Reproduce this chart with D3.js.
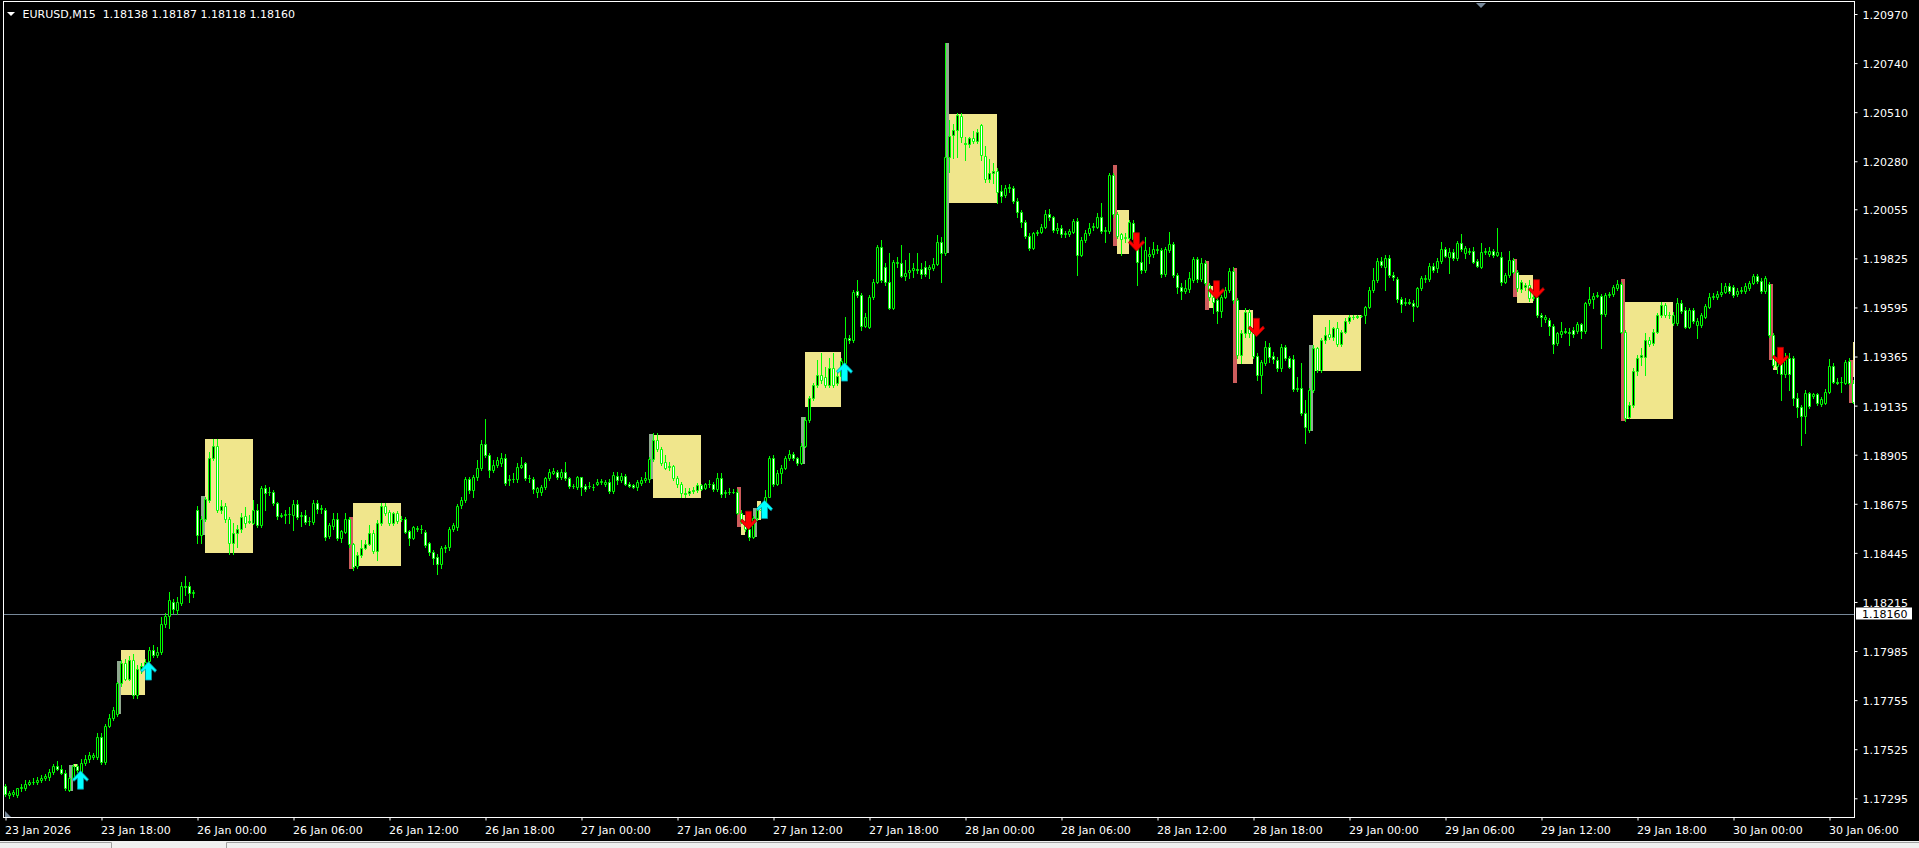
<!DOCTYPE html>
<html>
<head>
<meta charset="utf-8">
<script src="https://cdn.jsdelivr.net/npm/d3@7"></script>
<style>
  html, body { margin: 0; padding: 0; background: #000; overflow: hidden; }
  svg { display: block; font-family: "DejaVu Sans", Verdana, sans-serif; }
</style>
</head>
<body>
<svg id="chart" width="1919" height="848"></svg>
<script>
//======= start data =======//
let opens = [
1.17353,1.17311,1.17317,1.17309,1.17341,1.17344,1.17364,1.17370,1.17373,1.17380,1.17388,1.17395,
1.17419,1.17447,1.17434,1.17414,1.17336,1.17388,1.17447,1.17419,1.17461,1.17477,1.17489,1.17489,
1.17583,1.17466,1.17636,1.17673,1.17692,1.17833,1.17927,1.17856,1.17942,1.17778,1.17903,1.17914,
1.17939,1.17992,1.17966,1.17981,1.18114,1.18149,1.18216,1.18177,1.18208,1.18289,1.18292,1.18258,
1.18648,1.18528,1.18605,1.18695,1.18888,1.18945,1.18648,1.18664,1.18602,1.18492,1.18536,1.18555,
1.18617,1.18589,1.18586,1.18645,1.18575,1.18747,1.18730,1.18731,1.18677,1.18620,1.18623,1.18625,
1.18622,1.18673,1.18617,1.18622,1.18594,1.18591,1.18677,1.18652,1.18648,1.18524,1.18570,1.18606,
1.18517,1.18542,1.18606,1.18486,1.18383,1.18434,1.18470,1.18486,1.18536,1.18455,1.18583,1.18664,
1.18638,1.18586,1.18630,1.18605,1.18606,1.18547,1.18517,1.18558,1.18555,1.18544,1.18489,1.18450,
1.18427,1.18395,1.18466,1.18474,1.18559,1.18567,1.18669,1.18695,1.18789,1.18739,1.18799,1.18845,
1.18955,1.18903,1.18833,1.18856,1.18864,1.18888,1.18786,1.18789,1.18789,1.18849,1.18864,1.18794,
1.18789,1.18731,1.18731,1.18752,1.18794,1.18820,1.18825,1.18799,1.18825,1.18794,1.18758,1.18752,
1.18799,1.18758,1.18758,1.18752,1.18770,1.18778,1.18767,1.18778,1.18736,1.18805,1.18786,1.18805,
1.18770,1.18763,1.18755,1.18773,1.18786,1.18789,1.18884,1.18972,1.18934,1.18869,1.18849,1.18850,
1.18797,1.18770,1.18719,1.18727,1.18734,1.18739,1.18761,1.18750,1.18766,1.18770,1.18742,1.18797,
1.18724,1.18728,1.18731,1.18730,1.18631,1.18592,1.18559,1.18520,1.18608,1.18645,1.18647,1.18709,
1.18888,1.18770,1.18817,1.18844,1.18888,1.18908,1.18888,1.18866,1.18947,1.19066,1.19169,1.19233,
1.19280,1.19270,1.19233,1.19313,1.19241,1.19272,1.19336,1.19452,1.19442,1.19674,1.19652,1.19509,
1.19505,1.19644,1.19716,1.19878,1.19786,1.19716,1.19594,1.19803,1.19803,1.19742,1.19763,1.19770,
1.19777,1.19774,1.19786,1.19774,1.19778,1.19800,1.19902,1.19850,1.20298,1.20403,1.20427,1.20492,
1.20361,1.20361,1.20388,1.20377,1.20450,1.20305,1.20195,1.20223,1.20234,1.20139,1.20122,1.20153,
1.20155,1.20095,1.20041,1.19995,1.19930,1.19873,1.19942,1.19949,1.19974,1.20033,1.20017,1.19958,
1.19969,1.19939,1.19938,1.19949,1.20000,1.19842,1.19911,1.19942,1.19974,1.19974,1.20017,1.19953,
1.19953,1.20214,1.20033,1.19938,1.19924,1.19922,1.19992,1.19914,1.19806,1.19770,1.19838,1.19847,
1.19863,1.19863,1.19752,1.19866,1.19894,1.19747,1.19692,1.19674,1.19680,1.19724,1.19822,1.19727,
1.19803,1.19700,1.19644,1.19628,1.19578,1.19644,1.19677,1.19767,1.19628,1.19372,1.19474,1.19575,
1.19474,1.19367,1.19278,1.19333,1.19411,1.19367,1.19349,1.19309,1.19411,1.19356,1.19352,1.19211,
1.19216,1.19099,1.19020,1.19208,1.19403,1.19302,1.19442,1.19470,1.19455,1.19497,1.19424,1.19481,
1.19533,1.19548,1.19552,1.19555,1.19559,1.19595,1.19677,1.19724,1.19814,1.19786,1.19825,1.19749,
1.19727,1.19633,1.19617,1.19622,1.19614,1.19602,1.19684,1.19727,1.19727,1.19789,1.19778,1.19814,
1.19867,1.19833,1.19856,1.19825,1.19898,1.19852,1.19855,1.19861,1.19814,1.19786,1.19855,1.19845,
1.19861,1.19841,1.19830,1.19716,1.19747,1.19817,1.19763,1.19680,1.19692,1.19700,1.19638,1.19645,
1.19559,1.19539,1.19536,1.19508,1.19427,1.19470,1.19486,1.19481,1.19489,1.19486,1.19517,1.19486,
1.19614,1.19633,1.19649,1.19649,1.19564,1.19652,1.19658,1.19684,1.19705,1.19481,1.19083,1.19138,
1.19298,1.19364,1.19364,1.19442,1.19427,1.19481,1.19559,1.19606,1.19561,1.19520,1.19520,1.19617,
1.19583,1.19505,1.19583,1.19513,1.19513,1.19552,1.19599,1.19642,1.19642,1.19658,1.19669,1.19695,
1.19689,1.19658,1.19670,1.19674,1.19684,1.19711,1.19742,1.19720,1.19674,1.19705,1.19466,1.19320,
1.19349,1.19283,1.19356,1.19356,1.19169,1.19127,1.19086,1.19192,1.19180,1.19189,1.19142,1.19149,
1.19200,1.19320,1.19247,1.19245,1.19242,1.19345,1.19242
];

let highs = [
1.17364,1.17330,1.17336,1.17345,1.17361,1.17380,1.17383,1.17388,1.17395,1.17403,1.17411,1.17434,
1.17458,1.17470,1.17450,1.17427,1.17395,1.17458,1.17458,1.17477,1.17497,1.17513,1.17505,1.17602,
1.17599,1.17645,1.17692,1.17724,1.17841,1.17945,1.17950,1.17961,1.17973,1.17919,1.17927,1.17950,
1.18005,1.18013,1.18005,1.18145,1.18161,1.18263,1.18231,1.18236,1.18309,1.18336,1.18309,1.18273,
1.18664,1.18617,1.18708,1.18919,1.18977,1.18977,1.18692,1.18677,1.18614,1.18583,1.18575,1.18630,
1.18658,1.18622,1.18692,1.18673,1.18758,1.18763,1.18752,1.18739,1.18684,1.18630,1.18645,1.18661,
1.18692,1.18692,1.18638,1.18648,1.18614,1.18695,1.18692,1.18669,1.18653,1.18583,1.18630,1.18630,
1.18552,1.18630,1.18611,1.18492,1.18450,1.18505,1.18505,1.18575,1.18552,1.18598,1.18680,1.18680,
1.18645,1.18638,1.18642,1.18617,1.18614,1.18552,1.18570,1.18573,1.18575,1.18552,1.18497,1.18458,
1.18442,1.18477,1.18481,1.18567,1.18583,1.18673,1.18708,1.18799,1.18799,1.18809,1.18880,1.18973,
1.19070,1.18911,1.18880,1.18895,1.18911,1.18908,1.18809,1.18817,1.18864,1.18895,1.18872,1.18809,
1.18802,1.18755,1.18763,1.18802,1.18836,1.18841,1.18833,1.18836,1.18872,1.18802,1.18770,1.18805,
1.18802,1.18770,1.18778,1.18770,1.18789,1.18789,1.18786,1.18789,1.18825,1.18825,1.18817,1.18814,
1.18778,1.18770,1.18786,1.18799,1.18825,1.18895,1.19005,1.19005,1.18942,1.18903,1.18872,1.18856,
1.18805,1.18778,1.18747,1.18747,1.18752,1.18773,1.18770,1.18773,1.18786,1.18778,1.18817,1.18817,
1.18739,1.18747,1.18742,1.18742,1.18645,1.18606,1.18567,1.18617,1.18661,1.18661,1.18739,1.18898,
1.18903,1.18833,1.18856,1.18898,1.18927,1.18919,1.18895,1.18958,1.19083,1.19180,1.19242,1.19349,
1.19380,1.19317,1.19356,1.19380,1.19302,1.19356,1.19552,1.19466,1.19677,1.19724,1.19661,1.19567,
1.19653,1.19727,1.19888,1.19911,1.19802,1.19848,1.19817,1.19833,1.19888,1.19817,1.19848,1.19802,
1.19848,1.19802,1.19814,1.19794,1.19825,1.19934,1.19923,1.20836,1.20473,1.20455,1.20505,1.20505,
1.20395,1.20392,1.20423,1.20430,1.20455,1.20352,1.20289,1.20270,1.20247,1.20169,1.20169,1.20173,
1.20164,1.20106,1.20052,1.20005,1.19942,1.19950,1.19958,1.19986,1.20052,1.20055,1.20024,1.19989,
1.19981,1.19955,1.19961,1.20011,1.20013,1.19923,1.19958,1.19989,1.19992,1.20036,1.20083,1.19974,
1.20224,1.20224,1.20044,1.19945,1.19942,1.20005,1.20005,1.19923,1.19888,1.19927,1.19880,1.19903,
1.19888,1.19872,1.19880,1.19950,1.19903,1.19758,1.19708,1.19724,1.19763,1.19833,1.19833,1.19825,
1.19817,1.19711,1.19661,1.19638,1.19653,1.19689,1.19778,1.19786,1.19638,1.19489,1.19591,1.19586,
1.19489,1.19380,1.19349,1.19439,1.19427,1.19388,1.19364,1.19424,1.19419,1.19367,1.19372,1.19270,
1.19333,1.19161,1.19216,1.19419,1.19411,1.19450,1.19505,1.19536,1.19505,1.19528,1.19489,1.19544,
1.19559,1.19558,1.19559,1.19561,1.19602,1.19689,1.19778,1.19825,1.19833,1.19841,1.19841,1.19763,
1.19739,1.19645,1.19638,1.19633,1.19630,1.19692,1.19742,1.19747,1.19805,1.19802,1.19825,1.19903,
1.19880,1.19872,1.19867,1.19908,1.19939,1.19883,1.19872,1.19880,1.19820,1.19895,1.19872,1.19880,
1.19867,1.19969,1.19856,1.19758,1.19861,1.19825,1.19770,1.19724,1.19708,1.19724,1.19661,1.19653,
1.19567,1.19559,1.19544,1.19517,1.19481,1.19528,1.19497,1.19497,1.19502,1.19528,1.19523,1.19622,
1.19692,1.19661,1.19669,1.19658,1.19664,1.19669,1.19700,1.19724,1.19716,1.19489,1.19153,1.19309,
1.19372,1.19403,1.19474,1.19458,1.19492,1.19567,1.19622,1.19614,1.19575,1.19575,1.19638,1.19630,
1.19598,1.19591,1.19591,1.19544,1.19567,1.19611,1.19661,1.19664,1.19674,1.19711,1.19711,1.19708,
1.19700,1.19684,1.19689,1.19708,1.19720,1.19752,1.19752,1.19731,1.19742,1.19716,1.19474,1.19364,
1.19372,1.19380,1.19383,1.19367,1.19192,1.19138,1.19208,1.19200,1.19195,1.19195,1.19174,1.19211,
1.19352,1.19333,1.19263,1.19270,1.19349,1.19356,1.19255
];

let lows = [
1.17308,1.17298,1.17305,1.17302,1.17330,1.17336,1.17355,1.17361,1.17364,1.17370,1.17380,1.17383,
1.17411,1.17427,1.17408,1.17333,1.17330,1.17380,1.17419,1.17411,1.17450,1.17466,1.17477,1.17481,
1.17458,1.17458,1.17630,1.17661,1.17680,1.17820,1.17849,1.17849,1.17767,1.17763,1.17880,1.17895,
1.17927,1.17958,1.17955,1.17970,1.18099,1.18091,1.18164,1.18158,1.18200,1.18247,1.18216,1.18239,
1.18489,1.18489,1.18595,1.18684,1.18880,1.18638,1.18630,1.18591,1.18442,1.18442,1.18474,1.18544,
1.18567,1.18583,1.18580,1.18564,1.18564,1.18648,1.18716,1.18669,1.18606,1.18611,1.18583,1.18586,
1.18552,1.18605,1.18570,1.18580,1.18575,1.18580,1.18630,1.18630,1.18505,1.18513,1.18559,1.18505,
1.18497,1.18536,1.18474,1.18364,1.18372,1.18427,1.18461,1.18480,1.18445,1.18411,1.18575,1.18622,
1.18575,1.18575,1.18586,1.18595,1.18536,1.18481,1.18508,1.18548,1.18539,1.18474,1.18434,1.18395,
1.18348,1.18372,1.18450,1.18458,1.18548,1.18552,1.18653,1.18684,1.18724,1.18708,1.18786,1.18833,
1.18895,1.18799,1.18825,1.18848,1.18852,1.18763,1.18763,1.18778,1.18778,1.18841,1.18786,1.18778,
1.18727,1.18708,1.18716,1.18742,1.18786,1.18814,1.18789,1.18789,1.18786,1.18747,1.18747,1.18742,
1.18716,1.18736,1.18747,1.18739,1.18763,1.18770,1.18758,1.18727,1.18727,1.18770,1.18778,1.18763,
1.18752,1.18747,1.18739,1.18763,1.18778,1.18778,1.18877,1.18923,1.18856,1.18836,1.18833,1.18786,
1.18755,1.18708,1.18705,1.18716,1.18727,1.18730,1.18739,1.18742,1.18755,1.18736,1.18736,1.18708,
1.18705,1.18720,1.18724,1.18627,1.18583,1.18548,1.18505,1.18513,1.18598,1.18638,1.18642,1.18705,
1.18758,1.18763,1.18773,1.18836,1.18880,1.18880,1.18856,1.18861,1.18942,1.19059,1.19161,1.19223,
1.19239,1.19223,1.19223,1.19223,1.19231,1.19263,1.19330,1.19430,1.19434,1.19642,1.19489,1.19502,
1.19497,1.19633,1.19708,1.19716,1.19700,1.19586,1.19586,1.19786,1.19736,1.19724,1.19731,1.19739,
1.19755,1.19731,1.19742,1.19731,1.19770,1.19794,1.19716,1.19841,1.20231,1.20294,1.20302,1.20372,
1.20286,1.20349,1.20364,1.20364,1.20286,1.20184,1.20184,1.20177,1.20083,1.20091,1.20114,1.20138,
1.20083,1.20020,1.19974,1.19919,1.19864,1.19867,1.19934,1.19942,1.19966,1.20005,1.19950,1.19942,
1.19923,1.19923,1.19930,1.19942,1.19747,1.19836,1.19903,1.19934,1.19958,1.19966,1.19942,1.19903,
1.19942,1.20020,1.19919,1.19841,1.19903,1.19911,1.19903,1.19700,1.19755,1.19763,1.19802,1.19833,
1.19848,1.19739,1.19742,1.19856,1.19739,1.19661,1.19633,1.19661,1.19669,1.19716,1.19716,1.19720,
1.19700,1.19630,1.19567,1.19520,1.19552,1.19638,1.19669,1.19614,1.19356,1.19333,1.19458,1.19458,
1.19356,1.19255,1.19192,1.19325,1.19341,1.19333,1.19298,1.19298,1.19349,1.19309,1.19205,1.19205,
1.19091,1.18958,1.19013,1.19200,1.19294,1.19294,1.19427,1.19445,1.19442,1.19414,1.19414,1.19474,
1.19523,1.19542,1.19545,1.19548,1.19523,1.19591,1.19669,1.19716,1.19786,1.19677,1.19739,1.19724,
1.19622,1.19575,1.19606,1.19611,1.19533,1.19595,1.19677,1.19716,1.19720,1.19763,1.19763,1.19805,
1.19830,1.19755,1.19817,1.19817,1.19861,1.19825,1.19845,1.19802,1.19783,1.19778,1.19845,1.19836,
1.19833,1.19836,1.19700,1.19708,1.19739,1.19755,1.19674,1.19669,1.19677,1.19627,1.19630,1.19552,
1.19508,1.19528,1.19466,1.19380,1.19419,1.19458,1.19474,1.19419,1.19458,1.19474,1.19450,1.19474,
1.19606,1.19591,1.19642,1.19403,1.19555,1.19642,1.19649,1.19677,1.19474,1.19064,1.19075,1.19130,
1.19278,1.19325,1.19278,1.19414,1.19419,1.19474,1.19552,1.19552,1.19544,1.19513,1.19513,1.19567,
1.19497,1.19497,1.19523,1.19450,1.19505,1.19544,1.19591,1.19633,1.19636,1.19649,1.19661,1.19664,
1.19645,1.19649,1.19661,1.19664,1.19677,1.19705,1.19711,1.19664,1.19664,1.19455,1.19317,1.19286,
1.19161,1.19270,1.19208,1.19138,1.19083,1.18950,1.19005,1.19122,1.19169,1.19138,1.19133,1.19142,
1.19192,1.19239,1.19236,1.19200,1.19236,1.19236,1.19145
];

let closes = [
1.17314,1.17320,1.17323,1.17341,1.17348,1.17364,1.17370,1.17373,1.17380,1.17388,1.17398,1.17419,
1.17447,1.17434,1.17414,1.17341,1.17388,1.17447,1.17427,1.17461,1.17477,1.17497,1.17497,1.17580,
1.17466,1.17636,1.17673,1.17708,1.17833,1.17927,1.17856,1.17942,1.17778,1.17903,1.17914,1.17934,
1.17992,1.17966,1.17981,1.18114,1.18149,1.18224,1.18180,1.18216,1.18289,1.18283,1.18258,1.18263,
1.18528,1.18606,1.18699,1.18888,1.18945,1.18648,1.18664,1.18602,1.18492,1.18536,1.18555,1.18611,
1.18586,1.18594,1.18645,1.18575,1.18747,1.18724,1.18731,1.18677,1.18617,1.18623,1.18625,1.18627,
1.18673,1.18614,1.18622,1.18591,1.18595,1.18677,1.18652,1.18655,1.18520,1.18574,1.18606,1.18517,
1.18548,1.18606,1.18486,1.18380,1.18434,1.18470,1.18486,1.18536,1.18455,1.18583,1.18664,1.18633,
1.18586,1.18630,1.18595,1.18606,1.18544,1.18517,1.18564,1.18561,1.18558,1.18481,1.18450,1.18419,
1.18395,1.18466,1.18474,1.18559,1.18575,1.18664,1.18695,1.18789,1.18739,1.18799,1.18845,1.18955,
1.18903,1.18833,1.18856,1.18880,1.18888,1.18774,1.18789,1.18791,1.18849,1.18856,1.18794,1.18795,
1.18742,1.18747,1.18752,1.18794,1.18825,1.18830,1.18799,1.18825,1.18794,1.18758,1.18759,1.18799,
1.18752,1.18742,1.18759,1.18753,1.18778,1.18780,1.18778,1.18736,1.18809,1.18786,1.18805,1.18770,
1.18758,1.18755,1.18778,1.18786,1.18797,1.18884,1.18972,1.18931,1.18866,1.18845,1.18852,1.18797,
1.18770,1.18727,1.18727,1.18734,1.18739,1.18761,1.18745,1.18766,1.18770,1.18742,1.18797,1.18719,
1.18728,1.18731,1.18730,1.18634,1.18592,1.18559,1.18520,1.18608,1.18647,1.18648,1.18709,1.18888,
1.18770,1.18820,1.18844,1.18888,1.18908,1.18888,1.18866,1.18947,1.19066,1.19169,1.19233,1.19280,
1.19256,1.19233,1.19313,1.19233,1.19272,1.19344,1.19452,1.19442,1.19667,1.19652,1.19509,1.19552,
1.19644,1.19716,1.19878,1.19724,1.19716,1.19594,1.19806,1.19809,1.19742,1.19758,1.19770,1.19778,
1.19770,1.19752,1.19752,1.19783,1.19800,1.19902,1.19850,1.20302,1.20399,1.20427,1.20497,1.20395,
1.20364,1.20388,1.20377,1.20419,1.20309,1.20195,1.20223,1.20234,1.20138,1.20119,1.20155,1.20158,
1.20095,1.20041,1.19995,1.19930,1.19873,1.19942,1.19949,1.19974,1.20033,1.20017,1.19958,1.19969,
1.19938,1.19945,1.19953,1.20000,1.19842,1.19911,1.19942,1.19969,1.19977,1.20017,1.19953,1.19958,
1.20214,1.20033,1.19930,1.19914,1.19919,1.19995,1.19914,1.19806,1.19770,1.19866,1.19847,1.19869,
1.19869,1.19752,1.19869,1.19894,1.19747,1.19692,1.19674,1.19684,1.19731,1.19822,1.19727,1.19803,
1.19708,1.19644,1.19620,1.19578,1.19644,1.19677,1.19767,1.19628,1.19372,1.19474,1.19575,1.19474,
1.19367,1.19278,1.19341,1.19411,1.19364,1.19352,1.19309,1.19411,1.19356,1.19317,1.19211,1.19216,
1.19099,1.19036,1.19208,1.19403,1.19302,1.19442,1.19466,1.19455,1.19497,1.19424,1.19481,1.19533,
1.19548,1.19552,1.19555,1.19556,1.19595,1.19677,1.19724,1.19814,1.19794,1.19825,1.19747,1.19739,
1.19633,1.19611,1.19622,1.19617,1.19602,1.19684,1.19731,1.19731,1.19789,1.19770,1.19814,1.19867,
1.19836,1.19856,1.19825,1.19898,1.19867,1.19872,1.19861,1.19809,1.19789,1.19856,1.19861,1.19861,
1.19841,1.19856,1.19716,1.19747,1.19817,1.19763,1.19684,1.19716,1.19699,1.19638,1.19645,1.19559,
1.19548,1.19552,1.19508,1.19424,1.19474,1.19486,1.19481,1.19477,1.19470,1.19517,1.19486,1.19614,
1.19633,1.19649,1.19653,1.19564,1.19653,1.19658,1.19689,1.19705,1.19481,1.19075,1.19138,1.19298,
1.19356,1.19370,1.19442,1.19424,1.19481,1.19559,1.19606,1.19559,1.19558,1.19559,1.19617,1.19580,
1.19505,1.19583,1.19533,1.19533,1.19559,1.19602,1.19645,1.19649,1.19658,1.19669,1.19695,1.19674,
1.19653,1.19674,1.19677,1.19695,1.19711,1.19742,1.19720,1.19674,1.19731,1.19466,1.19325,1.19349,
1.19283,1.19356,1.19283,1.19169,1.19127,1.19086,1.19192,1.19133,1.19188,1.19145,1.19164,1.19200,
1.19320,1.19247,1.19242,1.19247,1.19341,1.19242,1.19153
];

// price scale labels on the right
let priceTicks = [1.20970, 1.20740, 1.20510, 1.20280, 1.20055, 1.19825, 1.19595, 1.19365, 1.19135,
  1.18905, 1.18675, 1.18445, 1.18215, 1.17985, 1.17755, 1.17525, 1.17295];

// time labels, one every 24 bars (6 hours of M15)
let timeLabels = ['23 Jan 2026', '23 Jan 18:00', '26 Jan 00:00', '26 Jan 06:00', '26 Jan 12:00',
  '26 Jan 18:00', '27 Jan 00:00', '27 Jan 06:00', '27 Jan 12:00', '27 Jan 18:00', '28 Jan 00:00',
  '28 Jan 06:00', '28 Jan 12:00', '28 Jan 18:00', '29 Jan 00:00', '29 Jan 06:00', '29 Jan 12:00',
  '29 Jan 18:00', '30 Jan 00:00', '30 Jan 06:00'];

// khaki zones (bar from / bar to / price top / price bottom)
let zoneFrom = [17, 29, 50, 87, 162, 184, 188, 200, 236, 278, 301, 308, 327, 378, 405, 442, 462];
let zoneTo = [18, 35, 62, 99, 174, 185, 189, 209, 248, 281, 302, 312, 339, 382, 417, 443, 466];
let zoneTop = [1.17455, 1.17989, 1.18978, 1.18678, 1.18995, 1.18622, 1.18686, 1.19386, 1.20502,
  1.20052, 1.19697, 1.19584, 1.19559, 1.19747, 1.19620, 1.19364, 1.19434];
let zoneBottom = [1.17442, 1.17778, 1.18445, 1.18384, 1.18702, 1.18528, 1.18599, 1.19130, 1.20084,
  1.19847, 1.19594, 1.19331, 1.19298, 1.19617, 1.19072, 1.19302, 1.19270];

// one-bar origin marks in front of the zones
let markBar = [16, 28, 49, 86, 161, 183, 187, 199, 235, 277, 300, 307, 326, 377, 404, 441, 461];
let markTop = [1.17450, 1.17938, 1.18711, 1.18613, 1.19000, 1.18755, 1.18655, 1.19083, 1.20836,
  1.20263, 1.19814, 1.19780, 1.19419, 1.19820, 1.19727, 1.19705, 1.19349];
let markBottom = [1.17330, 1.17689, 1.18528, 1.18369, 1.18789, 1.18567, 1.18520, 1.18861, 1.19850,
  1.19881, 1.19581, 1.19241, 1.19016, 1.19645, 1.19064, 1.19349, 1.19149];
let markSide = ['buy', 'buy', 'buy', 'sell', 'buy', 'sell', 'buy', 'buy', 'buy',
  'sell', 'sell', 'sell', 'buy', 'sell', 'sell', 'sell', 'sell'];

// signal arrows
let upArrowBar = [19, 36, 190, 210];
let upArrowPrice = [1.17381, 1.17892, 1.18649, 1.19293];
let downArrowBar = [186, 283, 303, 313, 383, 444];
let downArrowPrice = [1.18597, 1.19902, 1.19677, 1.19501, 1.19682, 1.19365];

let bidPrice = 1.18160;
let chartTitle = 'EURUSD,M15  1.18138 1.18187 1.18118 1.18160';
//======= end data =======//

let width = 1919;
let height = 848;
let plot = { left: 4, right: 1854, top: 2, bottom: 817 };
let n = closes.length;
let bull = '#00ff00';

let svg = d3.select('#chart');

let x = d3.scaleLinear()
  .domain([0, n - 1])
  .range([5.5, 5.5 + 4 * (n - 1)]);

let y = d3.scaleLinear()
  .domain([1.17295, 1.20970])
  .range([798.3, 14]);

function py(v) { return Math.round(y(v)) + 0.5; }

svg.append('rect')
  .attr('width', width)
  .attr('height', height)
  .attr('fill', '#000');

svg.append('clipPath')
  .attr('id', 'plotClip')
  .append('rect')
  .attr('x', plot.left)
  .attr('y', plot.top)
  .attr('width', plot.right - plot.left)
  .attr('height', plot.bottom - plot.top);

let body = svg.append('g').attr('clip-path', 'url(#plotClip)');

//======= start zones =======//
body.append('g')
  .selectAll('rect')
  .data(zoneFrom)
  .enter()
  .append('rect')
  .attr('x', function (d) { return Math.floor(x(d)); })
  .attr('y', function (d, i) { return Math.round(y(zoneTop[i])); })
  .attr('width', function (d, i) { return Math.floor(x(zoneTo[i])) - Math.floor(x(d)); })
  .attr('height', function (d, i) { return Math.max(2, Math.round(y(zoneBottom[i])) - Math.round(y(zoneTop[i]))); })
  .attr('fill', '#f0e68c');

body.append('g')
  .selectAll('rect')
  .data(markBar)
  .enter()
  .append('rect')
  .attr('x', function (d) { return Math.floor(x(d)); })
  .attr('y', function (d, i) { return Math.round(y(markTop[i])); })
  .attr('width', function (d) { return Math.floor(x(d + 1)) - Math.floor(x(d)); })
  .attr('height', function (d, i) { return Math.round(y(markBottom[i])) - Math.round(y(markTop[i])); })
  .attr('fill', function (d, i) { return markSide[i] === 'buy' ? '#8fa88f' : '#cd5c5c'; });
//======= end zones =======//

//======= start bid line =======//
body.append('line')
  .attr('x1', plot.left)
  .attr('x2', plot.right)
  .attr('y1', py(bidPrice))
  .attr('y2', py(bidPrice))
  .attr('stroke', '#778899')
  .attr('stroke-width', 1);
//======= end bid line =======//

//======= start candles =======//
let candles = body.append('g')
  .selectAll('g')
  .data(d3.range(n))
  .enter()
  .append('g');

candles.append('line')
  .attr('x1', function (i) { return x(i); })
  .attr('x2', function (i) { return x(i); })
  .attr('y1', function (i) { return py(Math.max(highs[i], opens[i], closes[i])) - 0.5; })
  .attr('y2', function (i) { return py(Math.min(lows[i], opens[i], closes[i])) + 0.5; })
  .attr('stroke', bull)
  .attr('stroke-width', 1);

candles.append('path')
  .attr('d', function (i) {
    let top = py(Math.max(opens[i], closes[i]));
    let bot = py(Math.min(opens[i], closes[i]));
    return 'M' + (x(i) - 1) + ',' + top + 'h2V' + bot + 'h-2Z';
  })
  .attr('fill', function (i) { return closes[i] >= opens[i] ? '#000' : '#fff'; })
  .attr('stroke', bull)
  .attr('stroke-width', 1);
//======= end candles =======//

//======= start arrows =======//
let upShape = 'M0,-9.2L8,-0.8L6.6,1.4L3,-1.8V9.2H-3V-1.8L-6.6,1.4L-8,-0.8Z';
let downShape = 'M0,9.2L8,0.8L6.6,-1.4L3,1.8V-9.2H-3V1.8L-6.6,-1.4L-8,0.8Z';

body.append('g')
  .selectAll('path')
  .data(upArrowBar)
  .enter()
  .append('path')
  .attr('d', upShape)
  .attr('transform', function (d, i) { return 'translate(' + (x(d) - 1) + ',' + y(upArrowPrice[i]) + ')'; })
  .attr('fill', '#00ffff')
  .attr('stroke', '#009aa8')
  .attr('stroke-width', 0.8);

body.append('g')
  .selectAll('path')
  .data(downArrowBar)
  .enter()
  .append('path')
  .attr('d', downShape)
  .attr('transform', function (d, i) { return 'translate(' + (x(d) - 1) + ',' + y(downArrowPrice[i]) + ')'; })
  .attr('fill', '#ff0000')
  .attr('stroke', '#a00000')
  .attr('stroke-width', 0.8);
//======= end arrows =======//

//======= start frame and axes =======//
svg.append('rect')
  .attr('x', 3.5)
  .attr('y', 1.5)
  .attr('width', plot.right - 3)
  .attr('height', plot.bottom - 1)
  .attr('fill', 'none')
  .attr('stroke', '#ffffff')
  .attr('stroke-width', 1);

let yAxis = svg.append('g')
  .attr('transform', 'translate(' + (plot.right + 0.5) + ',0)')
  .call(d3.axisRight(y).tickValues(priceTicks).tickFormat(d3.format('.5f'))
    .tickSize(3).tickSizeOuter(0).tickPadding(5));
yAxis.select('.domain').remove();
yAxis.selectAll('line').attr('stroke', '#fff');
yAxis.selectAll('text')
  .attr('fill', '#fff')
  .attr('dy', '0.4em')
  .style('font-size', '11px')
  .style('font-family', '"DejaVu Sans", Verdana, sans-serif');

let xAxis = svg.append('g')
  .attr('transform', 'translate(0,' + (plot.bottom + 0.5) + ')')
  .call(d3.axisBottom(x).tickValues(d3.range(0, n, 24))
    .tickFormat(function (d, i) { return timeLabels[i]; })
    .tickSize(3).tickSizeOuter(0).tickPadding(6));
xAxis.select('.domain').remove();
xAxis.selectAll('line').attr('stroke', '#fff');
xAxis.selectAll('text')
  .attr('fill', '#fff')
  .attr('text-anchor', 'start')
  .attr('dx', -1)
  .style('font-size', '11px')
  .style('font-family', '"DejaVu Sans", Verdana, sans-serif');

// current bid label
let bidY = y(bidPrice);
svg.append('rect')
  .attr('x', 1856)
  .attr('y', Math.round(bidY) - 6.5)
  .attr('width', 56)
  .attr('height', 12)
  .attr('fill', '#fff');
svg.append('text')
  .attr('x', 1862)
  .attr('y', Math.round(bidY) + 4)
  .attr('fill', '#000')
  .style('font-size', '11px')
  .text(d3.format('.5f')(bidPrice));
//======= end frame and axes =======//

//======= start title and markers =======//
svg.append('path')
  .attr('d', 'M7,12H15L11,16Z')
  .attr('fill', '#fff');

svg.append('text')
  .attr('x', 22.5)
  .attr('y', 18)
  .attr('fill', '#fff')
  .style('font-size', '11px')
  .style('white-space', 'pre')
  .text(chartTitle);

// chart shift marker at top
svg.append('path')
  .attr('d', 'M1476,3H1486L1481,8Z')
  .attr('fill', '#778899');

// small corner triangle at bottom-left
svg.append('path')
  .attr('d', 'M5,811V817H11Z')
  .attr('fill', '#778899');

// tab strip at the bottom of the window
svg.append('rect')
  .attr('x', 0)
  .attr('y', 841)
  .attr('width', width)
  .attr('height', 7)
  .attr('fill', '#f0f0f0');
svg.append('path')
  .attr('d', 'M0,842.5H111.5V848M226.5,848V842.5H1919')
  .attr('fill', 'none')
  .attr('stroke', '#a0a0a0');
//======= end title and markers =======//
</script>
</body>
</html>
